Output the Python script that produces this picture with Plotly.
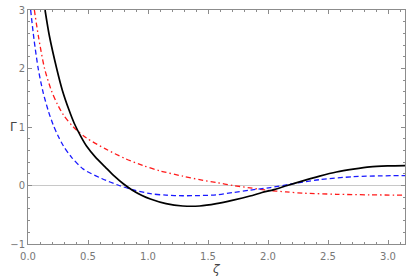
import numpy as np
import plotly.graph_objects as go

# Black solid curve
zeta_black = [0.142, 0.178, 0.239, 0.286, 0.342, 0.386, 0.44, 0.489, 0.56, 0.642, 0.72, 0.794, 0.87,
              0.95, 1.02, 1.15, 1.29, 1.43, 1.57, 1.71, 1.85, 1.95, 2.05, 2.16, 2.29, 2.43, 2.57,
              2.71, 2.85, 3.00, 3.1416]
gamma_black = [3.0, 2.56, 2.0, 1.63, 1.29, 1.06, 0.84, 0.67, 0.49, 0.32, 0.16, 0.03, -0.08,
               -0.17, -0.23, -0.31, -0.35, -0.35, -0.31, -0.25, -0.18, -0.12, -0.07, 0.0, 0.08, 0.16, 0.23,
               0.28, 0.32, 0.335, 0.34]

# Blue dashed curve
zeta_blue = [0.022, 0.05, 0.085, 0.125, 0.17, 0.211, 0.25, 0.294, 0.36, 0.461, 0.614, 0.76, 0.88,
             1.02, 1.15, 1.29, 1.43, 1.57, 1.71, 1.85, 2.02, 2.18, 2.43, 2.71, 2.95, 3.1416]
gamma_blue = [3.0, 2.5, 2.0, 1.6, 1.27, 1.03, 0.85, 0.68, 0.49, 0.28, 0.12, 0.0, -0.075,
              -0.14, -0.165, -0.175, -0.172, -0.16, -0.12, -0.08, -0.035, 0.02, 0.10, 0.15, 0.165, 0.17]

# Red dash-dot curve
zeta_red = [0.053, 0.086, 0.138, 0.197, 0.245, 0.294, 0.378, 0.489, 0.642, 0.81, 0.96, 1.10, 1.29,
            1.43, 1.57, 1.71, 1.85, 1.99, 2.15, 2.29, 2.57, 2.85, 3.1416]
gamma_red = [3.0, 2.56, 2.0, 1.61, 1.39, 1.21, 1.0, 0.81, 0.63, 0.46, 0.34, 0.25, 0.16, 0.10,
             0.05, 0.0, -0.04, -0.08, -0.11, -0.13, -0.15, -0.16, -0.165]

x_ticks = [0.0, 0.5, 1.0, 1.5, 2.0, 2.5, 3.0]
x_ticktext = ["0.0", "0.5", "1.0", "1.5", "2.0", "2.5", "3.0"]
y_ticks = [-1, 0, 1, 2, 3]

fig = go.Figure()
fig.add_trace(go.Scatter(x=zeta_red, y=gamma_red, mode="lines",
                         line=dict(color="#ff1a1a", width=1.3, dash="5px,3px,1.5px,3px",
                                   shape="spline", smoothing=0.8)))
fig.add_trace(go.Scatter(x=zeta_blue, y=gamma_blue, mode="lines",
                         line=dict(color="#1a1aff", width=1.3, dash="5px,3px",
                                   shape="spline", smoothing=0.8)))
fig.add_trace(go.Scatter(x=zeta_black, y=gamma_black, mode="lines",
                         line=dict(color="black", width=1.7, shape="spline", smoothing=0.8)))

axis_common = dict(showgrid=False, showline=True, linecolor="#8c8c8c", linewidth=1,
                   mirror="allticks", ticks="inside", ticklen=4, tickcolor="#8c8c8c",
                   tickfont=dict(family="DejaVu Sans", size=10, color="#777777"))

fig.update_xaxes(range=[0, np.pi], tickvals=x_ticks, ticktext=x_ticktext, zeroline=False,
                 ticklabelstandoff=3,
                 minor=dict(ticks="inside", dtick=0.1, ticklen=2, tickcolor="#8c8c8c"),
                 **axis_common)
fig.update_yaxes(range=[-1, 3], tickvals=y_ticks, zeroline=True, zerolinecolor="#c8c8c8",
                 zerolinewidth=1,
                 minor=dict(ticks="inside", dtick=0.2, ticklen=2, tickcolor="#8c8c8c"),
                 **axis_common)

fig.add_annotation(text="Γ", xref="paper", yref="paper", x=-0.053, y=0.5,
                   showarrow=False, font=dict(family="DejaVu Sans", size=12, color="#444444"))
fig.add_annotation(text="<i>ζ</i>", xref="paper", yref="paper", x=0.5, y=-0.105,
                   showarrow=False, yanchor="middle",
                   font=dict(family="DejaVu Sans", size=12, color="#444444"))

fig.update_layout(width=410, height=279, showlegend=False,
                  margin=dict(l=28, r=4, t=7, b=35),
                  plot_bgcolor="white", paper_bgcolor="white")

fig.write_html("out.html", config={"displayModeBar": False},
               post_script="document.body.style.margin='0';document.body.style.padding='0';")
